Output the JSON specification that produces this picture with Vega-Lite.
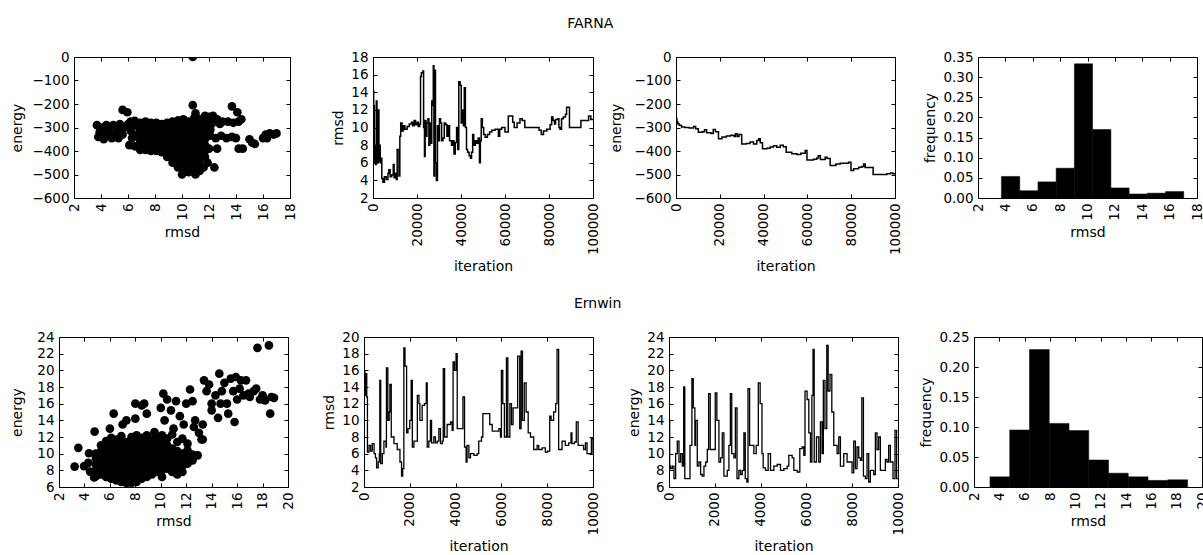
{
  "$schema": "https://vega.github.io/schema/vega-lite/v6.json",
  "padding": {"left": 10, "top": 16, "right": 0, "bottom": 0},
  "background": "white",
  "config": {
    "view": {"stroke": "black", "strokeWidth": 1},
    "font": "DejaVu Sans",
    "axis": {
      "labelFont": "DejaVu Sans", "titleFont": "DejaVu Sans",
      "labelFontSize": 13.5, "titleFontSize": 14, "titleFontWeight": "normal",
      "labelColor": "black", "titleColor": "black",
      "grid": false, "domain": false, "tickColor": "black", "tickWidth": 1,
      "tickSize": -4, "labelPadding": 9, "labelOverlap": false, "labelFlush": false,
      "titlePadding": 5
    },
    "axisX": {"labelAngle": 270},
    "axisY": {"labelAngle": 0},
    "title": {"font": "DejaVu Sans", "fontSize": 14, "fontWeight": "normal", "color": "black", "anchor": "middle", "offset": 19}
  },
  "datasets": {
    "spacer": [{"k": 0}],
    "farna_scatter": [
      {"rmsd":3.7,"energy":-290},{"rmsd":3.8,"energy":-340},{"rmsd":4.1,"energy":-300},{"rmsd":4.2,"energy":-350},{"rmsd":4.4,"energy":-290},{"rmsd":4.6,"energy":-320},{"rmsd":4.8,"energy":-345},{"rmsd":4.9,"energy":-290},{"rmsd":5.2,"energy":-310},{"rmsd":5.4,"energy":-285},{"rmsd":5.6,"energy":-330},{"rmsd":5.7,"energy":-300},{"rmsd":6.0,"energy":-285},{"rmsd":6.2,"energy":-315},{"rmsd":5.6,"energy":-225},{"rmsd":5.95,"energy":-235},{"rmsd":6.4,"energy":-290},{"rmsd":6.1,"energy":-375},{"rmsd":6.5,"energy":-380},{"rmsd":6.7,"energy":-330},{"rmsd":3.9,"energy":-320},{"rmsd":4.4,"energy":-330},{"rmsd":5.0,"energy":-325},{"rmsd":5.3,"energy":-345},{"rmsd":6.3,"energy":-345},{"rmsd":6.8,"energy":-300},{"rmsd":6.5,"energy":-272},{"rmsd":6.2,"energy":-275},
      {"rmsd":6.9,"energy":-280},{"rmsd":6.9,"energy":-305},{"rmsd":6.9,"energy":-330},{"rmsd":6.9,"energy":-355},{"rmsd":6.9,"energy":-380},{"rmsd":6.9,"energy":-395},
      {"rmsd":7.3,"energy":-275},{"rmsd":7.3,"energy":-300},{"rmsd":7.3,"energy":-325},{"rmsd":7.3,"energy":-350},{"rmsd":7.3,"energy":-375},{"rmsd":7.3,"energy":-395},
      {"rmsd":7.7,"energy":-280},{"rmsd":7.7,"energy":-305},{"rmsd":7.7,"energy":-330},{"rmsd":7.7,"energy":-355},{"rmsd":7.7,"energy":-380},{"rmsd":7.7,"energy":-400},
      {"rmsd":8.1,"energy":-280},{"rmsd":8.1,"energy":-305},{"rmsd":8.1,"energy":-330},{"rmsd":8.1,"energy":-355},{"rmsd":8.1,"energy":-380},{"rmsd":8.1,"energy":-400},
      {"rmsd":8.5,"energy":-285},{"rmsd":8.5,"energy":-310},{"rmsd":8.5,"energy":-335},{"rmsd":8.5,"energy":-360},{"rmsd":8.5,"energy":-385},{"rmsd":8.5,"energy":-405},
      {"rmsd":8.9,"energy":-280},{"rmsd":8.9,"energy":-305},{"rmsd":8.9,"energy":-330},{"rmsd":8.9,"energy":-355},{"rmsd":8.9,"energy":-380},{"rmsd":8.9,"energy":-405},{"rmsd":8.9,"energy":-425},
      {"rmsd":9.3,"energy":-275},{"rmsd":9.3,"energy":-300},{"rmsd":9.3,"energy":-325},{"rmsd":9.3,"energy":-350},{"rmsd":9.3,"energy":-375},{"rmsd":9.3,"energy":-400},{"rmsd":9.3,"energy":-425},{"rmsd":9.3,"energy":-450},
      {"rmsd":9.7,"energy":-270},{"rmsd":9.7,"energy":-295},{"rmsd":9.7,"energy":-320},{"rmsd":9.7,"energy":-345},{"rmsd":9.7,"energy":-370},{"rmsd":9.7,"energy":-395},{"rmsd":9.7,"energy":-420},{"rmsd":9.7,"energy":-445},{"rmsd":9.7,"energy":-470},
      {"rmsd":10.1,"energy":-265},{"rmsd":10.1,"energy":-290},{"rmsd":10.1,"energy":-315},{"rmsd":10.1,"energy":-340},{"rmsd":10.1,"energy":-365},{"rmsd":10.1,"energy":-390},{"rmsd":10.1,"energy":-415},{"rmsd":10.1,"energy":-440},{"rmsd":10.1,"energy":-465},{"rmsd":10.1,"energy":-490},{"rmsd":10.0,"energy":-500},
      {"rmsd":10.5,"energy":-275},{"rmsd":10.5,"energy":-300},{"rmsd":10.5,"energy":-325},{"rmsd":10.5,"energy":-350},{"rmsd":10.5,"energy":-375},{"rmsd":10.5,"energy":-400},{"rmsd":10.5,"energy":-425},{"rmsd":10.5,"energy":-450},{"rmsd":10.5,"energy":-475},{"rmsd":10.5,"energy":-490},
      {"rmsd":10.9,"energy":-260},{"rmsd":10.9,"energy":-285},{"rmsd":10.9,"energy":-310},{"rmsd":10.9,"energy":-335},{"rmsd":10.9,"energy":-360},{"rmsd":10.9,"energy":-385},{"rmsd":10.9,"energy":-410},{"rmsd":10.9,"energy":-435},{"rmsd":10.9,"energy":-460},{"rmsd":10.9,"energy":-485},{"rmsd":11.0,"energy":-500},
      {"rmsd":11.3,"energy":-265},{"rmsd":11.3,"energy":-290},{"rmsd":11.3,"energy":-315},{"rmsd":11.3,"energy":-340},{"rmsd":11.3,"energy":-365},{"rmsd":11.3,"energy":-390},{"rmsd":11.3,"energy":-415},{"rmsd":11.3,"energy":-440},{"rmsd":11.3,"energy":-465},{"rmsd":11.3,"energy":-485},
      {"rmsd":11.7,"energy":-250},{"rmsd":11.7,"energy":-275},{"rmsd":11.7,"energy":-300},{"rmsd":11.7,"energy":-325},{"rmsd":11.7,"energy":-350},{"rmsd":11.7,"energy":-375},{"rmsd":11.7,"energy":-400},{"rmsd":11.7,"energy":-425},
      {"rmsd":10.8,"energy":0},{"rmsd":10.8,"energy":-205},{"rmsd":11.0,"energy":-240},
      {"rmsd":12.0,"energy":-255},{"rmsd":12.3,"energy":-250},{"rmsd":12.6,"energy":-265},{"rmsd":13.0,"energy":-275},{"rmsd":13.4,"energy":-275},{"rmsd":13.8,"energy":-280},{"rmsd":12.2,"energy":-285},{"rmsd":12.8,"energy":-285},{"rmsd":14.2,"energy":-275},{"rmsd":12.1,"energy":-335},{"rmsd":12.5,"energy":-345},{"rmsd":12.9,"energy":-335},{"rmsd":13.3,"energy":-345},{"rmsd":13.7,"energy":-340},{"rmsd":12.0,"energy":-390},{"rmsd":12.6,"energy":-390},{"rmsd":12.4,"energy":-470},{"rmsd":13.7,"energy":-210},{"rmsd":14.1,"energy":-235},{"rmsd":14.0,"energy":-345},{"rmsd":14.2,"energy":-390},{"rmsd":14.5,"energy":-390},{"rmsd":15.0,"energy":-350},{"rmsd":15.2,"energy":-365},{"rmsd":15.4,"energy":-370},{"rmsd":16.0,"energy":-345},{"rmsd":16.2,"energy":-330},{"rmsd":16.5,"energy":-325},{"rmsd":16.8,"energy":-330},{"rmsd":17.0,"energy":-325},{"rmsd":16.3,"energy":-345},{"rmsd":14.4,"energy":-265},{"rmsd":12.1,"energy":-310},{"rmsd":11.9,"energy":-450},{"rmsd":11.6,"energy":-470}
    ],
    "farna_rmsd": [
      {"iteration":0,"rmsd":14.2},{"iteration":300,"rmsd":12.5},{"iteration":600,"rmsd":6},{"iteration":900,"rmsd":8},{"iteration":1200,"rmsd":5.8},{"iteration":1500,"rmsd":13},{"iteration":1800,"rmsd":7.5},{"iteration":2100,"rmsd":6},{"iteration":2400,"rmsd":12},{"iteration":2700,"rmsd":6.2},{"iteration":3000,"rmsd":8},{"iteration":3300,"rmsd":6},{"iteration":3600,"rmsd":6.5},{"iteration":4000,"rmsd":4.2},{"iteration":4500,"rmsd":3.8},{"iteration":5200,"rmsd":4.4},{"iteration":6000,"rmsd":4.1},{"iteration":6800,"rmsd":4.8},{"iteration":7200,"rmsd":5.2},{"iteration":7800,"rmsd":4.4},{"iteration":8500,"rmsd":4.6},{"iteration":9200,"rmsd":5.8},{"iteration":9600,"rmsd":4.3},{"iteration":10200,"rmsd":4.8},{"iteration":10600,"rmsd":4.1},{"iteration":11000,"rmsd":7.5},{"iteration":11800,"rmsd":4.5},{"iteration":12200,"rmsd":9},{"iteration":12600,"rmsd":10.5},{"iteration":13200,"rmsd":9.6},{"iteration":13800,"rmsd":10.2},{"iteration":14500,"rmsd":9.8},{"iteration":15500,"rmsd":10.1},{"iteration":16500,"rmsd":10.4},{"iteration":17500,"rmsd":10.6},{"iteration":18000,"rmsd":10.2},{"iteration":18700,"rmsd":10.8},{"iteration":19300,"rmsd":10.3},{"iteration":20000,"rmsd":10.6},{"iteration":20600,"rmsd":10.1},{"iteration":21200,"rmsd":10.4},{"iteration":21600,"rmsd":15.8},{"iteration":22000,"rmsd":16.2},{"iteration":22700,"rmsd":16.4},{"iteration":23000,"rmsd":10},{"iteration":23400,"rmsd":6.7},{"iteration":23700,"rmsd":10.8},{"iteration":24100,"rmsd":9},{"iteration":24500,"rmsd":10.5},{"iteration":25000,"rmsd":11},{"iteration":25400,"rmsd":8},{"iteration":25800,"rmsd":10.5},{"iteration":26300,"rmsd":8.2},{"iteration":26700,"rmsd":13},{"iteration":27100,"rmsd":12.5},{"iteration":27400,"rmsd":17},{"iteration":27700,"rmsd":4.5},{"iteration":28000,"rmsd":16.5},{"iteration":28400,"rmsd":6},{"iteration":28800,"rmsd":4},{"iteration":29300,"rmsd":10.2},{"iteration":29700,"rmsd":8.5},{"iteration":30200,"rmsd":11},{"iteration":30700,"rmsd":10.5},{"iteration":31200,"rmsd":8.5},{"iteration":31800,"rmsd":8.8},{"iteration":32400,"rmsd":10.5},{"iteration":33000,"rmsd":10.3},{"iteration":33600,"rmsd":9},{"iteration":34200,"rmsd":10.2},{"iteration":34800,"rmsd":8.5},{"iteration":35700,"rmsd":8},{"iteration":36300,"rmsd":8.5},{"iteration":36800,"rmsd":7},{"iteration":37400,"rmsd":8.3},{"iteration":38000,"rmsd":10},{"iteration":38500,"rmsd":7.5},{"iteration":39000,"rmsd":15.2},{"iteration":39600,"rmsd":14.8},{"iteration":40100,"rmsd":10.5},{"iteration":40600,"rmsd":12},{"iteration":41100,"rmsd":10.2},{"iteration":41500,"rmsd":14.5},{"iteration":42000,"rmsd":10},{"iteration":42500,"rmsd":7.5},{"iteration":43000,"rmsd":7.2},{"iteration":43700,"rmsd":6.8},{"iteration":44300,"rmsd":6.5},{"iteration":44800,"rmsd":7.2},{"iteration":45300,"rmsd":9.2},{"iteration":45800,"rmsd":8},{"iteration":46500,"rmsd":8.5},{"iteration":47200,"rmsd":8.2},{"iteration":47800,"rmsd":8.8},{"iteration":48400,"rmsd":6},{"iteration":48800,"rmsd":8.5},{"iteration":49200,"rmsd":11},{"iteration":49700,"rmsd":10},{"iteration":50300,"rmsd":9.2},{"iteration":51000,"rmsd":8.9},{"iteration":52000,"rmsd":9.2},{"iteration":53000,"rmsd":9.5},{"iteration":54000,"rmsd":9.7},{"iteration":55500,"rmsd":9.8},{"iteration":57000,"rmsd":9},{"iteration":57600,"rmsd":9.8},{"iteration":58500,"rmsd":10},{"iteration":60000,"rmsd":9.5},{"iteration":61500,"rmsd":11.3},{"iteration":63500,"rmsd":10.6},{"iteration":64200,"rmsd":10},{"iteration":65500,"rmsd":10.5},{"iteration":66800,"rmsd":11},{"iteration":67800,"rmsd":10.8},{"iteration":69000,"rmsd":10},{"iteration":72000,"rmsd":10},{"iteration":75500,"rmsd":9.7},{"iteration":76500,"rmsd":9.2},{"iteration":77500,"rmsd":9.6},{"iteration":79000,"rmsd":9.8},{"iteration":80500,"rmsd":10.3},{"iteration":81200,"rmsd":11.2},{"iteration":81800,"rmsd":10.8},{"iteration":82500,"rmsd":10.4},{"iteration":83000,"rmsd":10.9},{"iteration":84000,"rmsd":11},{"iteration":84500,"rmsd":10},{"iteration":85000,"rmsd":9.8},{"iteration":85700,"rmsd":11},{"iteration":86500,"rmsd":11.2},{"iteration":87500,"rmsd":11.5},{"iteration":88000,"rmsd":12.3},{"iteration":89300,"rmsd":10},{"iteration":94000,"rmsd":10},{"iteration":94500,"rmsd":10.8},{"iteration":97500,"rmsd":10.8},{"iteration":98000,"rmsd":11.3},{"iteration":99000,"rmsd":10.9},{"iteration":100000,"rmsd":11}
    ],
    "farna_energy": [
      {"iteration":0,"energy":-262},{"iteration":400,"energy":-275},{"iteration":800,"energy":-285},{"iteration":1500,"energy":-290},{"iteration":2500,"energy":-298},{"iteration":4000,"energy":-300},{"iteration":6000,"energy":-302},{"iteration":8000,"energy":-296},{"iteration":9000,"energy":-305},{"iteration":10200,"energy":-320},{"iteration":12000,"energy":-318},{"iteration":13000,"energy":-310},{"iteration":14000,"energy":-322},{"iteration":16000,"energy":-325},{"iteration":17000,"energy":-308},{"iteration":18000,"energy":-318},{"iteration":19400,"energy":-348},{"iteration":21000,"energy":-340},{"iteration":23000,"energy":-336},{"iteration":25000,"energy":-333},{"iteration":26500,"energy":-338},{"iteration":27200,"energy":-327},{"iteration":28000,"energy":-338},{"iteration":28800,"energy":-330},{"iteration":30000,"energy":-370},{"iteration":32000,"energy":-368},{"iteration":33800,"energy":-362},{"iteration":35400,"energy":-370},{"iteration":36900,"energy":-355},{"iteration":37800,"energy":-348},{"iteration":38500,"energy":-365},{"iteration":39500,"energy":-390},{"iteration":41500,"energy":-388},{"iteration":43000,"energy":-383},{"iteration":44500,"energy":-378},{"iteration":46000,"energy":-384},{"iteration":47600,"energy":-376},{"iteration":49000,"energy":-382},{"iteration":50300,"energy":-405},{"iteration":52900,"energy":-412},{"iteration":55200,"energy":-415},{"iteration":57000,"energy":-410},{"iteration":59000,"energy":-398},{"iteration":59800,"energy":-438},{"iteration":62800,"energy":-435},{"iteration":64300,"energy":-430},{"iteration":65000,"energy":-420},{"iteration":65900,"energy":-436},{"iteration":68100,"energy":-427},{"iteration":69000,"energy":-432},{"iteration":70400,"energy":-462},{"iteration":73000,"energy":-455},{"iteration":75000,"energy":-452},{"iteration":78800,"energy":-448},{"iteration":79900,"energy":-483},{"iteration":81100,"energy":-476},{"iteration":83400,"energy":-469},{"iteration":84900,"energy":-466},{"iteration":85700,"energy":-455},{"iteration":86400,"energy":-470},{"iteration":89500,"energy":-470},{"iteration":90000,"energy":-500},{"iteration":94800,"energy":-500},{"iteration":96300,"energy":-497},{"iteration":97900,"energy":-494},{"iteration":99000,"energy":-497},{"iteration":100000,"energy":-497}
    ],
    "farna_hist": [
      {"bin_start":3.71,"bin_end":5.05,"frequency":0.0535},{"bin_start":5.05,"bin_end":6.38,"frequency":0.018},{"bin_start":6.38,"bin_end":7.71,"frequency":0.040},{"bin_start":7.71,"bin_end":9.04,"frequency":0.074},{"bin_start":9.04,"bin_end":10.37,"frequency":0.333},{"bin_start":10.37,"bin_end":11.71,"frequency":0.170},{"bin_start":11.71,"bin_end":13.04,"frequency":0.025},{"bin_start":13.04,"bin_end":14.37,"frequency":0.010},{"bin_start":14.37,"bin_end":15.70,"frequency":0.012},{"bin_start":15.70,"bin_end":17.03,"frequency":0.016}
    ],
    "ern_scatter": [
      {"rmsd":3.23,"energy":8.45},{"rmsd":3.52,"energy":10.7},{"rmsd":3.97,"energy":8.5},{"rmsd":4.36,"energy":10.05},{"rmsd":4.44,"energy":7.85},{"rmsd":4.8,"energy":12.65},{"rmsd":4.76,"energy":7.15},{"rmsd":4.3,"energy":8.9},
      {"rmsd":4.9,"energy":7.3},{"rmsd":4.9,"energy":8.0},{"rmsd":4.9,"energy":8.7},{"rmsd":4.9,"energy":9.4},{"rmsd":4.9,"energy":10.0},
      {"rmsd":5.3,"energy":7.5},{"rmsd":5.3,"energy":8.2},{"rmsd":5.3,"energy":8.9},{"rmsd":5.3,"energy":9.6},{"rmsd":5.3,"energy":10.3},{"rmsd":5.3,"energy":11.0},
      {"rmsd":5.7,"energy":7.2},{"rmsd":5.7,"energy":7.9},{"rmsd":5.7,"energy":8.6},{"rmsd":5.7,"energy":9.3},{"rmsd":5.7,"energy":10.0},{"rmsd":5.7,"energy":10.7},{"rmsd":5.7,"energy":11.5},
      {"rmsd":6.1,"energy":7.0},{"rmsd":6.1,"energy":7.7},{"rmsd":6.1,"energy":8.4},{"rmsd":6.1,"energy":9.1},{"rmsd":6.1,"energy":9.8},{"rmsd":6.1,"energy":10.5},{"rmsd":6.1,"energy":11.2},{"rmsd":6.1,"energy":11.9},
      {"rmsd":6.5,"energy":6.8},{"rmsd":6.5,"energy":7.5},{"rmsd":6.5,"energy":8.2},{"rmsd":6.5,"energy":8.9},{"rmsd":6.5,"energy":9.6},{"rmsd":6.5,"energy":10.3},{"rmsd":6.5,"energy":11.0},{"rmsd":6.5,"energy":11.7},
      {"rmsd":6.9,"energy":6.6},{"rmsd":6.9,"energy":7.3},{"rmsd":6.9,"energy":8.0},{"rmsd":6.9,"energy":8.7},{"rmsd":6.9,"energy":9.4},{"rmsd":6.9,"energy":10.1},{"rmsd":6.9,"energy":10.8},{"rmsd":6.9,"energy":11.5},{"rmsd":6.9,"energy":12.1},
      {"rmsd":7.3,"energy":6.5},{"rmsd":7.3,"energy":7.2},{"rmsd":7.3,"energy":7.9},{"rmsd":7.3,"energy":8.6},{"rmsd":7.3,"energy":9.3},{"rmsd":7.3,"energy":10.0},{"rmsd":7.3,"energy":10.7},{"rmsd":7.3,"energy":11.4},
      {"rmsd":7.7,"energy":6.5},{"rmsd":7.7,"energy":7.2},{"rmsd":7.7,"energy":7.9},{"rmsd":7.7,"energy":8.6},{"rmsd":7.7,"energy":9.3},{"rmsd":7.7,"energy":10.0},{"rmsd":7.7,"energy":10.7},{"rmsd":7.7,"energy":11.4},{"rmsd":7.7,"energy":12.0},
      {"rmsd":8.1,"energy":6.6},{"rmsd":8.1,"energy":7.3},{"rmsd":8.1,"energy":8.0},{"rmsd":8.1,"energy":8.7},{"rmsd":8.1,"energy":9.4},{"rmsd":8.1,"energy":10.1},{"rmsd":8.1,"energy":10.8},{"rmsd":8.1,"energy":11.5},{"rmsd":8.1,"energy":12.2},
      {"rmsd":8.5,"energy":7.0},{"rmsd":8.5,"energy":7.7},{"rmsd":8.5,"energy":8.4},{"rmsd":8.5,"energy":9.1},{"rmsd":8.5,"energy":9.8},{"rmsd":8.5,"energy":10.5},{"rmsd":8.5,"energy":11.2},{"rmsd":8.5,"energy":11.9},
      {"rmsd":8.9,"energy":7.2},{"rmsd":8.9,"energy":7.9},{"rmsd":8.9,"energy":8.6},{"rmsd":8.9,"energy":9.3},{"rmsd":8.9,"energy":10.0},{"rmsd":8.9,"energy":10.7},{"rmsd":8.9,"energy":11.4},{"rmsd":8.9,"energy":12.2},
      {"rmsd":9.3,"energy":7.5},{"rmsd":9.3,"energy":8.2},{"rmsd":9.3,"energy":8.9},{"rmsd":9.3,"energy":9.6},{"rmsd":9.3,"energy":10.3},{"rmsd":9.3,"energy":11.0},{"rmsd":9.3,"energy":11.7},
      {"rmsd":9.7,"energy":7.8},{"rmsd":9.7,"energy":8.5},{"rmsd":9.7,"energy":9.2},{"rmsd":9.7,"energy":9.9},{"rmsd":9.7,"energy":10.6},{"rmsd":9.7,"energy":11.3},{"rmsd":9.7,"energy":12.0},
      {"rmsd":10.1,"energy":7.2},{"rmsd":10.1,"energy":8.0},{"rmsd":10.1,"energy":8.7},{"rmsd":10.1,"energy":9.4},{"rmsd":10.1,"energy":10.1},{"rmsd":10.1,"energy":10.8},{"rmsd":10.1,"energy":11.5},{"rmsd":10.1,"energy":12.2},
      {"rmsd":10.5,"energy":8.2},{"rmsd":10.5,"energy":8.9},{"rmsd":10.5,"energy":9.6},{"rmsd":10.5,"energy":10.3},{"rmsd":10.5,"energy":11.0},{"rmsd":10.5,"energy":11.8},
      {"rmsd":10.9,"energy":7.8},{"rmsd":10.9,"energy":8.5},{"rmsd":10.9,"energy":9.2},{"rmsd":10.9,"energy":9.9},{"rmsd":10.9,"energy":10.6},{"rmsd":10.9,"energy":12.3},
      {"rmsd":11.3,"energy":7.5},{"rmsd":11.3,"energy":8.2},{"rmsd":11.3,"energy":8.9},{"rmsd":11.3,"energy":9.6},{"rmsd":11.3,"energy":10.3},{"rmsd":11.3,"energy":11.4},
      {"rmsd":11.7,"energy":7.8},{"rmsd":11.7,"energy":8.5},{"rmsd":11.7,"energy":9.3},{"rmsd":11.7,"energy":10.0},{"rmsd":11.7,"energy":11.8},
      {"rmsd":12.1,"energy":8.8},{"rmsd":12.1,"energy":9.5},{"rmsd":12.1,"energy":10.4},{"rmsd":12.1,"energy":11.2},{"rmsd":12.5,"energy":9.2},{"rmsd":12.5,"energy":9.9},{"rmsd":12.9,"energy":9.8},
      {"rmsd":6.3,"energy":14.8},{"rmsd":6.0,"energy":13.0},{"rmsd":7.0,"energy":13.5},{"rmsd":7.3,"energy":14.0},{"rmsd":8.0,"energy":14.2},{"rmsd":8.0,"energy":16.0},{"rmsd":8.5,"energy":15.8},{"rmsd":8.7,"energy":16.0},{"rmsd":8.9,"energy":14.8},{"rmsd":10.0,"energy":15.5},{"rmsd":10.2,"energy":17.2},{"rmsd":10.5,"energy":16.5},{"rmsd":10.3,"energy":14.0},{"rmsd":10.8,"energy":15.2},{"rmsd":11.2,"energy":16.3},{"rmsd":11.5,"energy":14.5},{"rmsd":11.8,"energy":13.5},{"rmsd":12.0,"energy":16.0},{"rmsd":12.3,"energy":17.7},{"rmsd":12.5,"energy":16.3},{"rmsd":12.7,"energy":14.0},{"rmsd":13.0,"energy":12.5},{"rmsd":13.2,"energy":11.7},{"rmsd":13.3,"energy":13.5},{"rmsd":13.4,"energy":18.8},{"rmsd":13.6,"energy":17.5},{"rmsd":13.8,"energy":18.3},{"rmsd":14.0,"energy":16.0},{"rmsd":14.0,"energy":15.2},{"rmsd":14.3,"energy":17.0},{"rmsd":14.5,"energy":14.3},{"rmsd":14.6,"energy":19.6},{"rmsd":14.7,"energy":16.0},{"rmsd":14.8,"energy":17.5},{"rmsd":15.0,"energy":18.5},{"rmsd":15.2,"energy":16.0},{"rmsd":15.3,"energy":14.8},{"rmsd":15.5,"energy":19.0},{"rmsd":15.7,"energy":17.5},{"rmsd":15.8,"energy":13.8},{"rmsd":15.9,"energy":19.2},{"rmsd":16.0,"energy":16.5},{"rmsd":16.2,"energy":17.8},{"rmsd":16.3,"energy":18.8},{"rmsd":16.5,"energy":17.0},{"rmsd":16.7,"energy":18.8},{"rmsd":16.9,"energy":17.2},{"rmsd":17.0,"energy":16.8},{"rmsd":17.3,"energy":17.5},{"rmsd":17.5,"energy":17.8},{"rmsd":17.6,"energy":22.7},{"rmsd":17.8,"energy":16.5},{"rmsd":18.0,"energy":17.0},{"rmsd":18.2,"energy":16.4},{"rmsd":18.5,"energy":23.0},{"rmsd":18.6,"energy":14.8},{"rmsd":18.7,"energy":16.8},{"rmsd":18.9,"energy":16.7},{"rmsd":13.3,"energy":11.7},{"rmsd":12.6,"energy":13.2},{"rmsd":11.0,"energy":13.0},{"rmsd":9.5,"energy":12.6}
    ],
    "ern_rmsd": [
      {"iteration":0,"rmsd":15.8},{"iteration":40,"rmsd":13},{"iteration":80,"rmsd":15.6},{"iteration":120,"rmsd":12.8},{"iteration":150,"rmsd":6.2},{"iteration":220,"rmsd":7},{"iteration":290,"rmsd":6.3},{"iteration":360,"rmsd":7.2},{"iteration":440,"rmsd":6},{"iteration":500,"rmsd":5.5},{"iteration":550,"rmsd":4.3},{"iteration":620,"rmsd":5},{"iteration":670,"rmsd":6},{"iteration":690,"rmsd":14.8},{"iteration":730,"rmsd":4.8},{"iteration":800,"rmsd":6},{"iteration":870,"rmsd":7.5},{"iteration":960,"rmsd":6.8},{"iteration":980,"rmsd":16.3},{"iteration":1040,"rmsd":10},{"iteration":1100,"rmsd":11},{"iteration":1130,"rmsd":14.3},{"iteration":1190,"rmsd":8},{"iteration":1310,"rmsd":7.2},{"iteration":1450,"rmsd":6.5},{"iteration":1570,"rmsd":5},{"iteration":1640,"rmsd":3.3},{"iteration":1690,"rmsd":4.2},{"iteration":1740,"rmsd":18.7},{"iteration":1790,"rmsd":16.5},{"iteration":1860,"rmsd":8.5},{"iteration":1920,"rmsd":9},{"iteration":2000,"rmsd":10},{"iteration":2060,"rmsd":14.8},{"iteration":2110,"rmsd":6.8},{"iteration":2180,"rmsd":7.5},{"iteration":2250,"rmsd":7.5},{"iteration":2330,"rmsd":13},{"iteration":2400,"rmsd":12},{"iteration":2440,"rmsd":10},{"iteration":2540,"rmsd":11.8},{"iteration":2640,"rmsd":12},{"iteration":2720,"rmsd":14.5},{"iteration":2760,"rmsd":6.8},{"iteration":2830,"rmsd":7.5},{"iteration":2900,"rmsd":10},{"iteration":2950,"rmsd":7.3},{"iteration":3050,"rmsd":8},{"iteration":3120,"rmsd":7.3},{"iteration":3200,"rmsd":7.5},{"iteration":3270,"rmsd":9},{"iteration":3340,"rmsd":7.2},{"iteration":3420,"rmsd":7.5},{"iteration":3460,"rmsd":16.2},{"iteration":3520,"rmsd":8},{"iteration":3630,"rmsd":9.5},{"iteration":3780,"rmsd":9.8},{"iteration":3850,"rmsd":8.8},{"iteration":3890,"rmsd":17},{"iteration":3950,"rmsd":16},{"iteration":4020,"rmsd":18},{"iteration":4070,"rmsd":9},{"iteration":4210,"rmsd":9},{"iteration":4320,"rmsd":12.8},{"iteration":4390,"rmsd":6.8},{"iteration":4460,"rmsd":5},{"iteration":4500,"rmsd":7},{"iteration":4580,"rmsd":5.5},{"iteration":4650,"rmsd":6},{"iteration":4800,"rmsd":5.8},{"iteration":4940,"rmsd":6},{"iteration":5010,"rmsd":7.5},{"iteration":5130,"rmsd":8},{"iteration":5190,"rmsd":10.8},{"iteration":5380,"rmsd":10.8},{"iteration":5490,"rmsd":9.5},{"iteration":5600,"rmsd":8.7},{"iteration":5810,"rmsd":8.7},{"iteration":5890,"rmsd":9},{"iteration":5960,"rmsd":8},{"iteration":6000,"rmsd":16},{"iteration":6060,"rmsd":12},{"iteration":6130,"rmsd":8},{"iteration":6220,"rmsd":17.5},{"iteration":6280,"rmsd":8},{"iteration":6370,"rmsd":12},{"iteration":6440,"rmsd":9.5},{"iteration":6510,"rmsd":11.5},{"iteration":6610,"rmsd":11.5},{"iteration":6710,"rmsd":17.7},{"iteration":6800,"rmsd":9},{"iteration":6860,"rmsd":18.3},{"iteration":6920,"rmsd":10},{"iteration":7000,"rmsd":14.5},{"iteration":7080,"rmsd":11},{"iteration":7170,"rmsd":8.5},{"iteration":7270,"rmsd":8},{"iteration":7410,"rmsd":6.5},{"iteration":7560,"rmsd":7},{"iteration":7630,"rmsd":6.5},{"iteration":7780,"rmsd":6.7},{"iteration":7920,"rmsd":6.2},{"iteration":8020,"rmsd":6.3},{"iteration":8110,"rmsd":10.5},{"iteration":8170,"rmsd":10},{"iteration":8280,"rmsd":11},{"iteration":8370,"rmsd":12},{"iteration":8430,"rmsd":18.5},{"iteration":8500,"rmsd":6.5},{"iteration":8650,"rmsd":7.5},{"iteration":8790,"rmsd":7},{"iteration":8940,"rmsd":7.3},{"iteration":9040,"rmsd":8.5},{"iteration":9080,"rmsd":7.2},{"iteration":9190,"rmsd":7.4},{"iteration":9270,"rmsd":9.8},{"iteration":9350,"rmsd":7},{"iteration":9450,"rmsd":7},{"iteration":9590,"rmsd":6.5},{"iteration":9670,"rmsd":7.3},{"iteration":9740,"rmsd":6},{"iteration":9850,"rmsd":6},{"iteration":9930,"rmsd":7.8},{"iteration":10000,"rmsd":6}
    ],
    "ern_energy": [
      {"iteration":0,"energy":14},{"iteration":30,"energy":8.5},{"iteration":73,"energy":8.2},{"iteration":145,"energy":8.5},{"iteration":218,"energy":7},{"iteration":290,"energy":10},{"iteration":363,"energy":11.5},{"iteration":436,"energy":9},{"iteration":508,"energy":10},{"iteration":581,"energy":8.5},{"iteration":640,"energy":18},{"iteration":690,"energy":7},{"iteration":828,"energy":7},{"iteration":916,"energy":11},{"iteration":1000,"energy":19},{"iteration":1060,"energy":15.5},{"iteration":1130,"energy":11},{"iteration":1160,"energy":14},{"iteration":1235,"energy":8.5},{"iteration":1308,"energy":9},{"iteration":1381,"energy":7.5},{"iteration":1453,"energy":7.3},{"iteration":1526,"energy":8.5},{"iteration":1599,"energy":9},{"iteration":1672,"energy":10.5},{"iteration":1730,"energy":17.2},{"iteration":1800,"energy":10.5},{"iteration":1962,"energy":10.5},{"iteration":2020,"energy":17.3},{"iteration":2090,"energy":14},{"iteration":2180,"energy":9},{"iteration":2253,"energy":9.5},{"iteration":2326,"energy":12.5},{"iteration":2398,"energy":7.3},{"iteration":2544,"energy":8},{"iteration":2616,"energy":11},{"iteration":2680,"energy":17.2},{"iteration":2740,"energy":10},{"iteration":2834,"energy":9.5},{"iteration":2900,"energy":15.5},{"iteration":2970,"energy":7},{"iteration":3052,"energy":8},{"iteration":3125,"energy":7.5},{"iteration":3198,"energy":8},{"iteration":3270,"energy":12.5},{"iteration":3330,"energy":7},{"iteration":3400,"energy":6.6},{"iteration":3450,"energy":17.8},{"iteration":3520,"energy":11},{"iteration":3634,"energy":11},{"iteration":3706,"energy":10},{"iteration":3808,"energy":11},{"iteration":3900,"energy":18.5},{"iteration":3980,"energy":16},{"iteration":4060,"energy":10},{"iteration":4113,"energy":8.3},{"iteration":4215,"energy":8},{"iteration":4330,"energy":10},{"iteration":4433,"energy":8},{"iteration":4578,"energy":8.5},{"iteration":4724,"energy":8.7},{"iteration":4869,"energy":8},{"iteration":5015,"energy":8.2},{"iteration":5160,"energy":8.5},{"iteration":5233,"energy":9.8},{"iteration":5378,"energy":9.5},{"iteration":5451,"energy":8},{"iteration":5596,"energy":7.8},{"iteration":5712,"energy":10.6},{"iteration":5814,"energy":10.8},{"iteration":5887,"energy":9.8},{"iteration":5940,"energy":17.5},{"iteration":6030,"energy":16.5},{"iteration":6105,"energy":12.5},{"iteration":6177,"energy":9},{"iteration":6240,"energy":17},{"iteration":6290,"energy":22.5},{"iteration":6340,"energy":9},{"iteration":6439,"energy":12},{"iteration":6541,"energy":9},{"iteration":6613,"energy":13.8},{"iteration":6686,"energy":10},{"iteration":6740,"energy":18.8},{"iteration":6810,"energy":13},{"iteration":6890,"energy":23},{"iteration":6950,"energy":17.5},{"iteration":7030,"energy":19.5},{"iteration":7110,"energy":15},{"iteration":7195,"energy":11},{"iteration":7340,"energy":10},{"iteration":7413,"energy":12},{"iteration":7485,"energy":8.5},{"iteration":7631,"energy":10},{"iteration":7776,"energy":9},{"iteration":7921,"energy":9},{"iteration":7994,"energy":7.7},{"iteration":8067,"energy":11.5},{"iteration":8140,"energy":8.2},{"iteration":8212,"energy":10.8},{"iteration":8285,"energy":9.5},{"iteration":8358,"energy":9.2},{"iteration":8420,"energy":16.7},{"iteration":8490,"energy":7.3},{"iteration":8576,"energy":7},{"iteration":8648,"energy":10},{"iteration":8721,"energy":6.6},{"iteration":8794,"energy":8},{"iteration":8939,"energy":7.5},{"iteration":9012,"energy":12.5},{"iteration":9084,"energy":10.5},{"iteration":9157,"energy":12},{"iteration":9230,"energy":8},{"iteration":9375,"energy":8},{"iteration":9448,"energy":9.3},{"iteration":9520,"energy":9},{"iteration":9593,"energy":11},{"iteration":9666,"energy":9},{"iteration":9782,"energy":7},{"iteration":9870,"energy":12.8},{"iteration":9940,"energy":7},{"iteration":10000,"energy":7}
    ],
    "ern_hist": [
      {"bin_start":3.26,"bin_end":4.82,"frequency":0.017},{"bin_start":4.82,"bin_end":6.38,"frequency":0.095},{"bin_start":6.38,"bin_end":7.94,"frequency":0.229},{"bin_start":7.94,"bin_end":9.50,"frequency":0.106},{"bin_start":9.50,"bin_end":11.06,"frequency":0.094},{"bin_start":11.06,"bin_end":12.62,"frequency":0.045},{"bin_start":12.62,"bin_end":14.18,"frequency":0.023},{"bin_start":14.18,"bin_end":15.74,"frequency":0.017},{"bin_start":15.74,"bin_end":17.30,"frequency":0.011},{"bin_start":17.30,"bin_end":18.86,"frequency":0.012}
    ]
  },
  "concat": [
    {
      "title": {"text": "FARNA", "dx": -17},
      "bounds": "flush",
      "spacing": 0,
      "hconcat": [
        {
          "width": 15, "height": 10,
          "data": {"name": "spacer"},
          "view": {"stroke": null},
          "mark": {"type": "point", "opacity": 0},
          "encoding": {}
        },
        {
          "bounds": "flush",
          "spacing": 83,
          "hconcat": [
            {
              "width": 216, "height": 141,
              "data": {"name": "farna_scatter"},
              "layer": [
                {"mark": {"type": "circle", "size": 75, "color": "black", "opacity": 1, "clip": true},
                 "encoding": {
                   "x": {"field": "rmsd", "type": "quantitative", "scale": {"domain": [2, 18], "nice": false, "zero": false}, "axis": {"title": "rmsd", "values": [2,4,6,8,10,12,14,16,18]}},
                   "y": {"field": "energy", "type": "quantitative", "scale": {"domain": [-600, 0], "nice": false, "zero": false}, "axis": {"title": "energy", "values": [-600,-500,-400,-300,-200,-100,0], "titlePadding": 7}}}},
                {"mark": {"type": "point", "opacity": 0},
                 "encoding": {
                   "x": {"field": "rmsd", "type": "quantitative", "scale": {"domain": [2, 18], "nice": false, "zero": false}, "axis": {"orient": "top", "labels": false, "title": null, "values": [2,4,6,8,10,12,14,16,18]}},
                   "y": {"field": "energy", "type": "quantitative", "scale": {"domain": [-600, 0], "nice": false, "zero": false}, "axis": {"orient": "right", "labels": false, "title": null, "values": [-600,-500,-400,-300,-200,-100,0]}}}}
              ],
              "resolve": {"axis": {"x": "independent", "y": "independent"}}
            },
            {
              "width": 220, "height": 141,
              "data": {"name": "farna_rmsd"},
              "layer": [
                {"mark": {"type": "line", "interpolate": "step-after", "color": "black", "strokeWidth": 1.5, "clip": true},
                 "encoding": {
                   "x": {"field": "iteration", "type": "quantitative", "scale": {"domain": [0, 100000], "nice": false, "zero": false}, "axis": {"title": "iteration", "format": "d", "values": [0,20000,40000,60000,80000,100000]}},
                   "y": {"field": "rmsd", "type": "quantitative", "scale": {"domain": [2, 18], "nice": false, "zero": false}, "axis": {"title": "rmsd", "values": [2,4,6,8,10,12,14,16,18]}}}},
                {"mark": {"type": "point", "opacity": 0},
                 "encoding": {
                   "x": {"field": "iteration", "type": "quantitative", "scale": {"domain": [0, 100000], "nice": false, "zero": false}, "axis": {"orient": "top", "labels": false, "title": null, "values": [0,20000,40000,60000,80000,100000]}},
                   "y": {"field": "rmsd", "type": "quantitative", "scale": {"domain": [2, 18], "nice": false, "zero": false}, "axis": {"orient": "right", "labels": false, "title": null, "values": [2,4,6,8,10,12,14,16,18]}}}}
              ],
              "resolve": {"axis": {"x": "independent", "y": "independent"}}
            },
            {
              "width": 219, "height": 141,
              "data": {"name": "farna_energy"},
              "layer": [
                {"mark": {"type": "line", "interpolate": "step-after", "color": "black", "strokeWidth": 1.5, "clip": true},
                 "encoding": {
                   "x": {"field": "iteration", "type": "quantitative", "scale": {"domain": [0, 100000], "nice": false, "zero": false}, "axis": {"title": "iteration", "format": "d", "values": [0,20000,40000,60000,80000,100000]}},
                   "y": {"field": "energy", "type": "quantitative", "scale": {"domain": [-600, 0], "nice": false, "zero": false}, "axis": {"title": "energy", "values": [-600,-500,-400,-300,-200,-100,0], "titlePadding": 10}}}},
                {"mark": {"type": "point", "opacity": 0},
                 "encoding": {
                   "x": {"field": "iteration", "type": "quantitative", "scale": {"domain": [0, 100000], "nice": false, "zero": false}, "axis": {"orient": "top", "labels": false, "title": null, "values": [0,20000,40000,60000,80000,100000]}},
                   "y": {"field": "energy", "type": "quantitative", "scale": {"domain": [-600, 0], "nice": false, "zero": false}, "axis": {"orient": "right", "labels": false, "title": null, "values": [-600,-500,-400,-300,-200,-100,0]}}}}
              ],
              "resolve": {"axis": {"x": "independent", "y": "independent"}}
            },
            {
              "width": 219, "height": 141,
              "data": {"name": "farna_hist"},
              "layer": [
                {"mark": {"type": "bar", "color": "black", "stroke": "black", "strokeWidth": 0.5},
                 "encoding": {
                   "x": {"field": "bin_start", "type": "quantitative", "scale": {"domain": [2, 18], "nice": false, "zero": false}, "axis": {"title": "rmsd", "values": [2,4,6,8,10,12,14,16,18]}},
                   "x2": {"field": "bin_end"},
                   "y": {"field": "frequency", "type": "quantitative", "scale": {"domain": [0, 0.35], "nice": false}, "axis": {"title": "frequency", "format": ".2f", "values": [0,0.05,0.1,0.15,0.2,0.25,0.3,0.35]}},
                   "y2": {"datum": 0}}},
                {"mark": {"type": "point", "opacity": 0},
                 "encoding": {
                   "x": {"field": "bin_start", "type": "quantitative", "scale": {"domain": [2, 18], "nice": false, "zero": false}, "axis": {"orient": "top", "labels": false, "title": null, "values": [2,4,6,8,10,12,14,16,18]}},
                   "y": {"field": "frequency", "type": "quantitative", "scale": {"domain": [0, 0.35], "nice": false}, "axis": {"orient": "right", "labels": false, "title": null, "values": [0,0.05,0.1,0.15,0.2,0.25,0.3,0.35]}}}}
              ],
              "resolve": {"axis": {"x": "independent", "y": "independent"}}
            }
          ]
        }
      ]
    },
    {
      "title": {"text": "Ernwin", "dx": -12},
      "bounds": "flush",
      "spacing": 76,
      "hconcat": [
        {
          "width": 229, "height": 150,
          "data": {"name": "ern_scatter"},
          "layer": [
            {"mark": {"type": "circle", "size": 75, "color": "black", "opacity": 1, "clip": true},
             "encoding": {
               "x": {"field": "rmsd", "type": "quantitative", "scale": {"domain": [2, 20], "nice": false, "zero": false}, "axis": {"title": "rmsd", "values": [2,4,6,8,10,12,14,16,18,20]}},
               "y": {"field": "energy", "type": "quantitative", "scale": {"domain": [6, 24], "nice": false, "zero": false}, "axis": {"title": "energy", "values": [6,8,10,12,14,16,18,20,22,24], "titlePadding": 12}}}},
            {"mark": {"type": "point", "opacity": 0},
             "encoding": {
               "x": {"field": "rmsd", "type": "quantitative", "scale": {"domain": [2, 20], "nice": false, "zero": false}, "axis": {"orient": "top", "labels": false, "title": null, "values": [2,4,6,8,10,12,14,16,18,20]}},
               "y": {"field": "energy", "type": "quantitative", "scale": {"domain": [6, 24], "nice": false, "zero": false}, "axis": {"orient": "right", "labels": false, "title": null, "values": [6,8,10,12,14,16,18,20,22,24]}}}}
          ],
          "resolve": {"axis": {"x": "independent", "y": "independent"}}
        },
        {
          "width": 229, "height": 150,
          "data": {"name": "ern_rmsd"},
          "layer": [
            {"mark": {"type": "line", "interpolate": "step-after", "color": "black", "strokeWidth": 1.3, "clip": true},
             "encoding": {
               "x": {"field": "iteration", "type": "quantitative", "scale": {"domain": [0, 10000], "nice": false, "zero": false}, "axis": {"title": "iteration", "format": "d", "values": [0,2000,4000,6000,8000,10000]}},
               "y": {"field": "rmsd", "type": "quantitative", "scale": {"domain": [2, 20], "nice": false, "zero": false}, "axis": {"title": "rmsd", "values": [2,4,6,8,10,12,14,16,18,20]}}}},
            {"mark": {"type": "point", "opacity": 0},
             "encoding": {
               "x": {"field": "iteration", "type": "quantitative", "scale": {"domain": [0, 10000], "nice": false, "zero": false}, "axis": {"orient": "top", "labels": false, "title": null, "values": [0,2000,4000,6000,8000,10000]}},
               "y": {"field": "rmsd", "type": "quantitative", "scale": {"domain": [2, 20], "nice": false, "zero": false}, "axis": {"orient": "right", "labels": false, "title": null, "values": [2,4,6,8,10,12,14,16,18,20]}}}}
          ],
          "resolve": {"axis": {"x": "independent", "y": "independent"}}
        },
        {
          "width": 229, "height": 150,
          "data": {"name": "ern_energy"},
          "layer": [
            {"mark": {"type": "line", "interpolate": "step-after", "color": "black", "strokeWidth": 1.3, "clip": true},
             "encoding": {
               "x": {"field": "iteration", "type": "quantitative", "scale": {"domain": [0, 10000], "nice": false, "zero": false}, "axis": {"title": "iteration", "format": "d", "values": [0,2000,4000,6000,8000,10000]}},
               "y": {"field": "energy", "type": "quantitative", "scale": {"domain": [6, 24], "nice": false, "zero": false}, "axis": {"title": "energy", "values": [6,8,10,12,14,16,18,20,22,24]}}}},
            {"mark": {"type": "point", "opacity": 0},
             "encoding": {
               "x": {"field": "iteration", "type": "quantitative", "scale": {"domain": [0, 10000], "nice": false, "zero": false}, "axis": {"orient": "top", "labels": false, "title": null, "values": [0,2000,4000,6000,8000,10000]}},
               "y": {"field": "energy", "type": "quantitative", "scale": {"domain": [6, 24], "nice": false, "zero": false}, "axis": {"orient": "right", "labels": false, "title": null, "values": [6,8,10,12,14,16,18,20,22,24]}}}}
          ],
          "resolve": {"axis": {"x": "independent", "y": "independent"}}
        },
        {
          "width": 228, "height": 150,
          "data": {"name": "ern_hist"},
          "layer": [
            {"mark": {"type": "bar", "color": "black", "stroke": "black", "strokeWidth": 0.5},
             "encoding": {
               "x": {"field": "bin_start", "type": "quantitative", "scale": {"domain": [2, 20], "nice": false, "zero": false}, "axis": {"title": "rmsd", "values": [2,4,6,8,10,12,14,16,18,20]}},
               "x2": {"field": "bin_end"},
               "y": {"field": "frequency", "type": "quantitative", "scale": {"domain": [0, 0.25], "nice": false}, "axis": {"title": "frequency", "format": ".2f", "values": [0,0.05,0.1,0.15,0.2,0.25]}},
               "y2": {"datum": 0}}},
            {"mark": {"type": "point", "opacity": 0},
             "encoding": {
               "x": {"field": "bin_start", "type": "quantitative", "scale": {"domain": [2, 20], "nice": false, "zero": false}, "axis": {"orient": "top", "labels": false, "title": null, "values": [2,4,6,8,10,12,14,16,18,20]}},
               "y": {"field": "frequency", "type": "quantitative", "scale": {"domain": [0, 0.25], "nice": false}, "axis": {"orient": "right", "labels": false, "title": null, "values": [0,0.05,0.1,0.15,0.2,0.25]}}}}
          ],
          "resolve": {"axis": {"x": "independent", "y": "independent"}}
        }
      ]
    }
  ],
  "columns": 1,
  "spacing": 21
}
